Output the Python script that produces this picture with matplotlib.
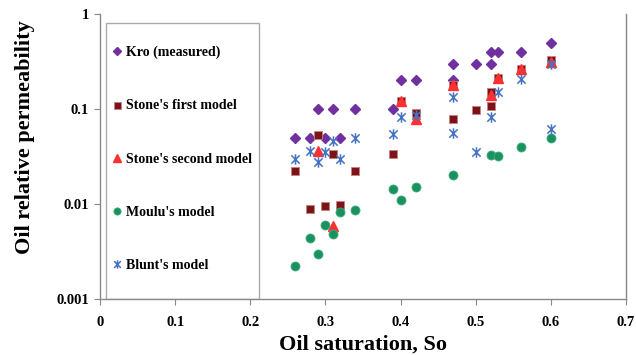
import matplotlib
matplotlib.use("Agg")
import matplotlib.pyplot as plt
from matplotlib.path import Path
from matplotlib.patches import Rectangle
from matplotlib.ticker import FixedLocator, NullLocator, FuncFormatter

# Oil saturation (So) and relative permeability values
kro_so = [0.26, 0.28, 0.30, 0.32, 0.29, 0.31, 0.34, 0.39, 0.40, 0.42, 0.47, 0.47,
          0.50, 0.52, 0.52, 0.53, 0.56, 0.60]
kro_val = [0.05, 0.05, 0.05, 0.05, 0.1, 0.1, 0.1, 0.1, 0.2, 0.2, 0.2, 0.3,
           0.3, 0.3, 0.4, 0.4, 0.4, 0.5]

stone1_so = [0.26, 0.28, 0.29, 0.30, 0.31, 0.32, 0.34, 0.39, 0.40, 0.42, 0.47, 0.47,
             0.50, 0.52, 0.52, 0.53, 0.56, 0.60]
stone1_val = [0.022, 0.0088, 0.053, 0.0095, 0.034, 0.0098, 0.022, 0.034, 0.12, 0.09,
              0.18, 0.078, 0.098, 0.15, 0.108, 0.21, 0.265, 0.325]

stone2_so = [0.29, 0.31, 0.40, 0.42, 0.47, 0.52, 0.53, 0.56, 0.60]
stone2_val = [0.036, 0.0059, 0.12, 0.078, 0.18, 0.14, 0.21, 0.265, 0.31]

moulu_so = [0.26, 0.28, 0.29, 0.30, 0.31, 0.32, 0.34, 0.39, 0.40, 0.42, 0.47,
            0.52, 0.53, 0.56, 0.60]
moulu_val = [0.0022, 0.0044, 0.003, 0.006, 0.0048, 0.0082, 0.0086, 0.0143, 0.011,
             0.015, 0.02, 0.033, 0.032, 0.0395, 0.049]

blunt_so = [0.26, 0.28, 0.29, 0.30, 0.31, 0.32, 0.34, 0.39, 0.40, 0.42, 0.47, 0.47,
            0.50, 0.52, 0.53, 0.56, 0.60, 0.60]
blunt_val = [0.030, 0.036, 0.028, 0.035, 0.046, 0.030, 0.05, 0.054, 0.082, 0.086,
             0.135, 0.056, 0.035, 0.083, 0.152, 0.205, 0.30, 0.062]

x_ticks = [0, 0.1, 0.2, 0.3, 0.4, 0.5, 0.6, 0.7]
y_ticks = [0.001, 0.01, 0.1, 1]

plt.rcParams['font.family'] = ['Liberation Serif', 'DejaVu Serif']
plt.rcParams['font.weight'] = 'bold'

# Excel-style star marker: an X with a vertical bar through it
star = Path([(-1, -1), (1, 1), (-1, 1), (1, -1), (0, -1.25), (0, 1.25)],
            [Path.MOVETO, Path.LINETO, Path.MOVETO, Path.LINETO, Path.MOVETO, Path.LINETO])

fig = plt.figure(figsize=(6.36, 3.55), dpi=100)
ax = fig.add_axes([100 / 636, 56 / 355, 526 / 636, 285 / 355])

ax.plot(kro_so, kro_val, ls='none', marker='D', ms=4.8, color='#7030A0',
        mec='#7030A0', label='Kro (measured)', zorder=3)
ax.plot(stone1_so, stone1_val, ls='none', marker='s', ms=6.3, color='#7B1416',
        mec='#C88080', mew=0.6, label="Stone's first model", zorder=4)
ax.plot(stone2_so, stone2_val, ls='none', marker='^', ms=6.8, color='#FF3030',
        mec='#FF3030', label="Stone's second model", zorder=5)
ax.plot(moulu_so, moulu_val, ls='none', marker='o', ms=6.5, color='#1B9160',
        mec='#3FAF80', mew=0.6, label="Moulu's model", zorder=6)
ax.plot(blunt_so, blunt_val, ls='none', marker=star, ms=7.5, mfc='none',
        mec='#4472C4', mew=1.1, label="Blunt's model", zorder=7)

ax.set_yscale('log')
ax.set_xlim(0, 0.7)
ax.set_ylim(0.001, 1)
ax.xaxis.set_major_locator(FixedLocator(x_ticks))
ax.yaxis.set_major_locator(FixedLocator(y_ticks))
ax.yaxis.set_minor_locator(NullLocator())
ax.xaxis.set_major_formatter(FuncFormatter(lambda v, p: f"{v:g}"))
ax.yaxis.set_major_formatter(FuncFormatter(lambda v, p: f"{v:g}"))
ax.tick_params(axis='both', which='major', direction='out', length=4, width=0.8,
               color='#888888', labelsize=10.5, pad=4)
ax.tick_params(axis='x', pad=8)
for lab in ax.get_xticklabels() + ax.get_yticklabels():
    lab.set_fontweight('bold')

for side in ['left', 'bottom', 'right']:
    ax.spines[side].set_color('#888888')
    ax.spines[side].set_linewidth(1.0)
ax.spines['top'].set_visible(False)

ax.set_xlabel('Oil saturation, So', fontsize=16, fontweight='bold', labelpad=4)
ax.set_ylabel('Oil relative permeability', fontsize=16, fontweight='bold')
ax.yaxis.set_label_coords(-0.123, 0.568)

# legend box drawn separately so the entries can sit where Excel puts them
ax.add_patch(Rectangle((0.011, 0.0), 0.291, 0.97, transform=ax.transAxes,
                       facecolor='white', edgecolor='#AAAAAA', lw=1.0, zorder=2))
leg = ax.legend(loc='upper left', bbox_to_anchor=(0.021, 0.889), frameon=False,
                borderaxespad=0, borderpad=0, labelspacing=2.9, markerscale=0.8,
                handlelength=0.8, handletextpad=0.3,
                prop={'family': 'Liberation Serif', 'weight': 'bold', 'size': 10})

fig.savefig('out.png', dpi=100)
